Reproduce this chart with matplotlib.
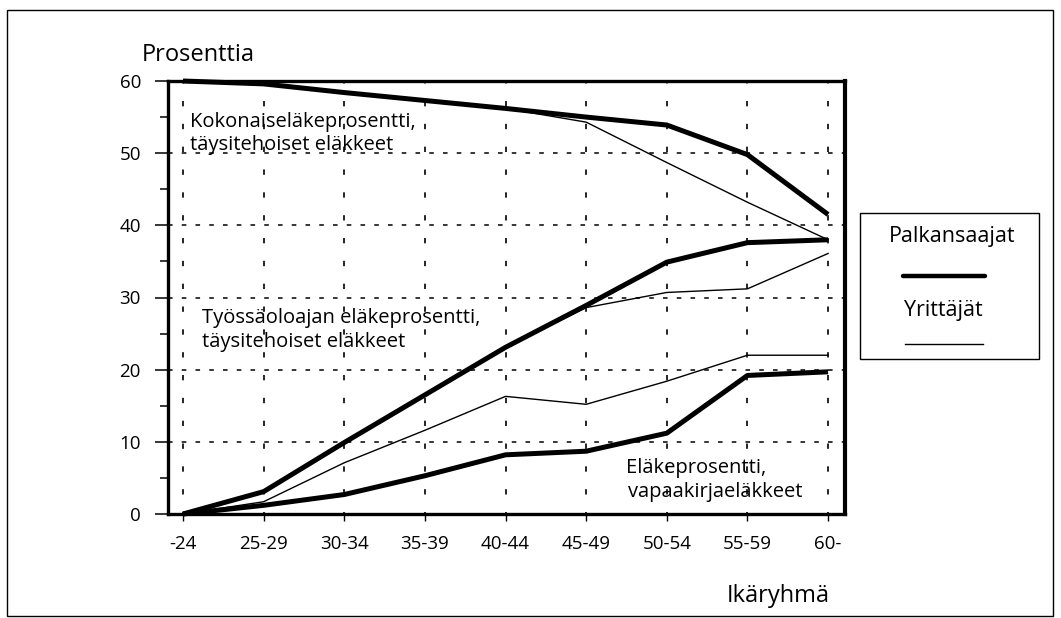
import matplotlib
matplotlib.use("Agg")
import matplotlib.pyplot as plt
from matplotlib.patches import Rectangle
from matplotlib.lines import Line2D
from matplotlib.ticker import MultipleLocator

plt.rcParams['font.family'] = ['Open Sans', 'DejaVu Sans']

# age groups on the x axis
ages = ['-24', '25-29', '30-34', '35-39', '40-44', '45-49', '50-54', '55-59', '60-']

# Kokonaiseläkeprosentti, täysitehoiset eläkkeet
total_wage = [60.0, 59.6, 58.4, 57.3, 56.2, 55.0, 53.9, 49.8, 41.5]
total_entre = [60.0, 59.6, 58.4, 57.3, 56.2, 54.3, 48.7, 43.2, 38.0]
# Työssäoloajan eläkeprosentti, täysitehoiset eläkkeet
work_wage = [0.0, 3.1, 9.9, 16.5, 23.1, 28.9, 34.9, 37.6, 38.0]
work_entre = [0.0, 3.1, 9.9, 16.5, 23.1, 28.6, 30.7, 31.2, 36.1]
# Eläkeprosentti, vapaakirjaeläkkeet
free_wage = [0.0, 1.2, 2.7, 5.3, 8.2, 8.7, 11.2, 19.2, 19.7]
free_entre = [0.0, 1.7, 7.1, 11.6, 16.3, 15.2, 18.4, 22.0, 22.0]

W, H = 1061, 618
fig = plt.figure(figsize=(W / 100, H / 100), dpi=100)

ax = fig.add_axes([168 / W, 1 - 514 / H, 677 / W, 433 / H])
x = list(range(len(ages)))

thick = dict(color='black', lw=3.6, zorder=4, clip_on=False, solid_capstyle='butt')
thin = dict(color='black', lw=1.0, zorder=5, clip_on=False)
for ys in (total_wage, work_wage, free_wage):
    ax.plot(x, ys, **thick)
for ys in (total_entre, work_entre, free_entre):
    ax.plot(x, ys, **thin)

ax.set_xlim(-0.186, 8.21)
ax.set_ylim(0, 60)
ax.set_xticks(x)
ax.set_xticklabels(ages)
ax.yaxis.set_major_locator(MultipleLocator(10))
ax.yaxis.set_minor_locator(MultipleLocator(5))

ax.grid(axis='y', color='black', lw=1.1, linestyle=(0, (3, 6)))
ax.grid(axis='x', color='black', lw=1.2, linestyle=(2, (3.2, 10.5)))
ax.set_axisbelow(True)

for s in ax.spines.values():
    s.set_linewidth(2.4)
ax.spines['right'].set_linewidth(3.0)

ax.tick_params(axis='y', which='major', direction='out', length=9.5, width=1.1,
               pad=10, labelsize=13.5)
ax.tick_params(axis='y', which='minor', direction='out', length=5.5, width=1.1)
ax.tick_params(axis='x', direction='out', length=5, width=1.0, pad=10, labelsize=13.5)

# curve labels
def frac(px, py):
    return (px - 168) / 677, (514 - py) / 433

tkw = dict(transform=ax.transAxes, fontsize=14.5, va='baseline', ha='left')
ax.text(*frac(190, 127), 'Kokonaiseläkeprosentti,', **tkw)
ax.text(*frac(190, 150), 'täysitehoiset eläkkeet', **tkw)
ax.text(*frac(202, 323), 'Työssäoloajan eläkeprosentti,', **tkw)
ax.text(*frac(202, 347), 'täysitehoiset eläkkeet', **tkw)
ax.text(*frac(626, 473), 'Eläkeprosentti,', **tkw)
ax.text(*frac(628, 497), 'vapaakirjaeläkkeet', **tkw)

fig.text(142 / W, 1 - 61 / H, 'Prosenttia', fontsize=17, va='baseline', ha='left')
fig.text(830 / W, 1 - 602 / H, 'Ikäryhmä', fontsize=17, va='baseline', ha='right')

# legend box
fig.patches.append(Rectangle((860 / W, 1 - 359 / H), 179 / W, 146 / H,
                             transform=fig.transFigure, fill=False, lw=1.0,
                             edgecolor='black'))
fig.text(952 / W, 1 - 242 / H, 'Palkansaajat', fontsize=15.5, ha='center', va='baseline')
fig.lines.append(Line2D([903 / W, 985 / W], [1 - 276 / H] * 2, transform=fig.transFigure,
                        color='black', lw=3.2, solid_capstyle='round'))
fig.text(943 / W, 1 - 316 / H, 'Yrittäjät', fontsize=15.5, ha='center', va='baseline')
fig.lines.append(Line2D([905 / W, 983 / W], [1 - 344 / H] * 2, transform=fig.transFigure,
                        color='black', lw=1.0))

# outer frame
fig.patches.append(Rectangle((7 / W, 1 - 616 / H), 1046 / W, 606 / H,
                             transform=fig.transFigure, fill=False, lw=1.0,
                             edgecolor='black'))

fig.savefig('out.png', dpi=100)
